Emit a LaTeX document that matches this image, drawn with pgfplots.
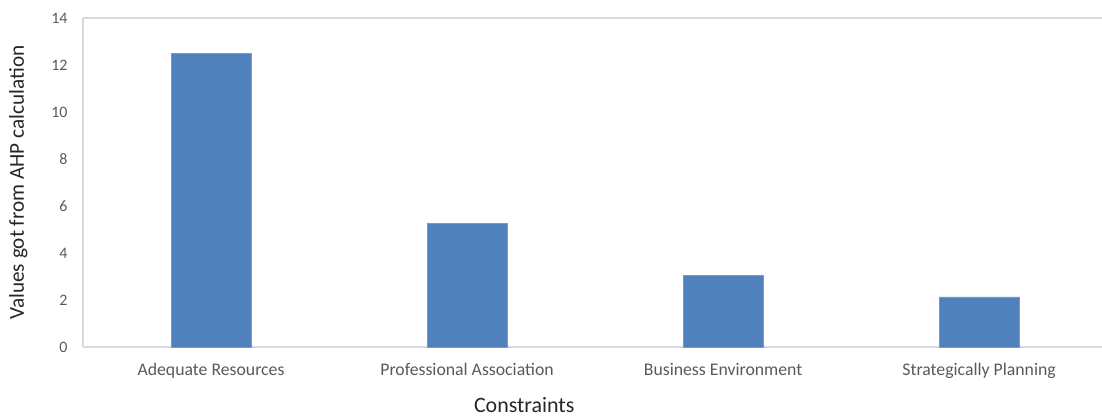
\documentclass[border=0pt]{standalone}
\usepackage{pgfplots}
\pgfplotsset{compat=1.18}
\usepackage{fontspec}
\setmainfont{Carlito}
\definecolor{barblue}{HTML}{4F81BD}
\definecolor{axgray}{HTML}{D9D9D9}
\definecolor{tickgray}{HTML}{595959}
\definecolor{labgray}{HTML}{262626}
\begin{document}
\begin{tikzpicture}
\path[use as bounding box] (-83bp,-69bp) rectangle (1019bp,347bp);
\begin{axis}[
  at={(0,0)}, anchor=south west,
  scale only axis,
  width=1019bp, height=329bp,
  xmin=-0.5, xmax=3.48,
  ymin=0, ymax=14,
  ytick={0,2,...,14},
  xtick={0,1,2,3},
  xticklabels={Adequate Resources,Professional Association,Business Environment,Strategically Planning},
  axis line style={axgray, line width=1.2bp},
  axis x line*=bottom,
  axis y line*=left,
  major tick length=0pt,
  /pgf/number format/assume math mode=true,
  yticklabel style={font=\fontsize{16}{19}\selectfont, text=tickgray, xshift=-12bp},
  xticklabel style={font=\fontsize{17.8}{20}\selectfont, text=tickgray, yshift=-13bp},
  xlabel={Constraints},
  ylabel={Values got from AHP calculation},
  xlabel style={font=\fontsize{22}{25}\selectfont, text=labgray, at={(axis description cs:0.433,0)}, anchor=north, yshift=-47bp},
  ylabel style={font=\fontsize{21.3}{25}\selectfont, text=labgray, at={(axis description cs:0,0.5)}, anchor=south, xshift=0bp, yshift=52bp},
  clip=false,
]
\draw[axgray, line width=1.2bp] (axis cs:-0.5,14) -- (axis cs:3.48,14);
\addplot[ybar, bar width=80bp, fill=barblue, draw=barblue!80!white, line width=0.6bp]
  coordinates {(0,12.5) (1,5.26) (2,3.03) (3,2.13)};
\end{axis}
\end{tikzpicture}
\end{document}
